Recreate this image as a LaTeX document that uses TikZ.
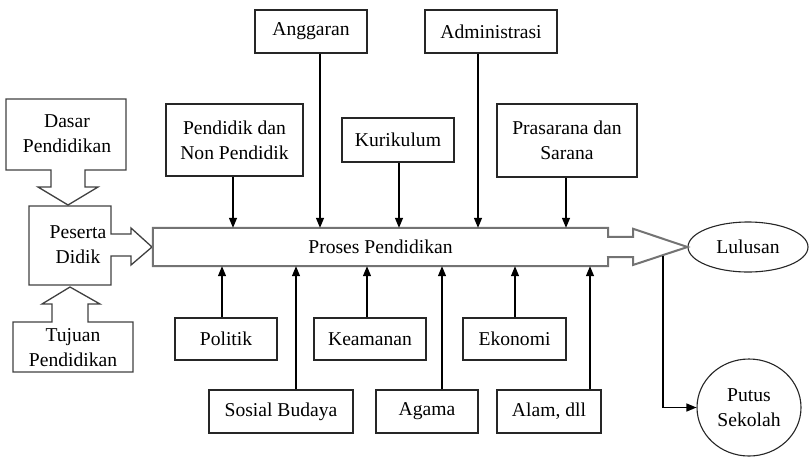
\documentclass[tikz,border=0pt]{standalone}
\usepackage{fontspec}
\setmainfont{Liberation Serif}
\usetikzlibrary{arrows.meta,shapes.geometric}
\newcommand\lblfont{\fontsize{19.6}{25}\selectfont}

\begin{document}
\begin{tikzpicture}[x=1pt,y=-1pt,
  box/.style={draw=black!85, line width=1.3pt, fill=white, inner sep=0pt,
              align=center, font=\lblfont},
  txt/.style={inner sep=0pt, align=center, font=\lblfont},
  oval/.style={ellipse, draw=black!85, line width=1.1pt, inner sep=0pt,
               align=center, font=\lblfont},
  feed/.style={line width=1.3pt, draw=black,
               -{Triangle[length=10pt,width=8pt]}},
  blockarrow/.style={draw=black!75, line width=1.3pt, line join=miter},
  mainflow/.style={draw=black!55, line width=2pt, line join=miter},
]
\useasboundingbox (0,0) rectangle (810,459);

% ---- input side: block arrows into the learner box ----
% Dasar Pendidikan, pointing down
\draw[blockarrow] (6,99) -- (126,99) -- (126,170) -- (85,170) -- (85,187)
  -- (98,187) -- (68,205) -- (38,187) -- (51,187) -- (51,170) -- (6,170) -- cycle;
\node[txt] (dasar) at (67,134) {Dasar\\Pendidikan};

% Peserta Didik with its arrow into the process
\draw[blockarrow] (29,206) -- (111,206) -- (111,234) -- (131,234) -- (131,228)
  -- (152,247) -- (131,265) -- (131,256) -- (111,256) -- (111,285) -- (29,285) -- cycle;
\node[txt] (peserta) at (78,245) {Peserta\\Didik};

% Tujuan Pendidikan, pointing up
\draw[blockarrow] (13,322) -- (52,322) -- (52,304) -- (42,304) -- (70,287)
  -- (100,304) -- (88,304) -- (88,322) -- (133,322) -- (133,372) -- (13,372) -- cycle;
\node[txt] (tujuan) at (73,348) {Tujuan\\Pendidikan};

% ---- the education process ----
\node[minimum width=455pt, minimum height=38pt, inner sep=0pt, font=\lblfont]
  (proses) at (380.5,247) {Proses Pendidikan};
\node[oval, minimum width=120pt, minimum height=50pt] (lulusan) at (748,247) {Lulusan};
\draw[mainflow] (proses.north west) -- (proses.north east) -- ++(0,9) -- ++(25,0)
  -- ++(0,-8) -- (lulusan.west) -- (633,265) -- ++(0,-8) -- ++(-25,0)
  -- (proses.south east) -- (proses.south west) -- cycle;

% ---- influences from above ----
\node[box, minimum width=112pt, minimum height=43pt] (anggaran) at (311,31.5) {Anggaran};
\node[box, minimum width=132pt, minimum height=43pt] (admin) at (491,31.5) {Administrasi};
\node[box, minimum width=137pt, minimum height=72pt] (pendidik) at (234.5,140) {Pendidik dan\\Non Pendidik};
\node[box, minimum width=112pt, minimum height=44pt] (kurikulum) at (398,140) {Kurikulum};
\node[box, minimum width=140pt, minimum height=73pt] (prasarana) at (567,140.5) {Prasarana dan\\Sarana};

\draw[feed] ([xshift=-1.5pt]pendidik.south) -- ([xshift=-1.5pt]pendidik.south |- proses.north);
\draw[feed] ([xshift=9pt]anggaran.south) -- ([xshift=9pt]anggaran.south |- proses.north);
\draw[feed] ([xshift=1pt]kurikulum.south) -- ([xshift=1pt]kurikulum.south |- proses.north);
\draw[feed] ([xshift=-13pt]admin.south) -- ([xshift=-13pt]admin.south |- proses.north);
\draw[feed] ([xshift=-1pt]prasarana.south) -- ([xshift=-1pt]prasarana.south |- proses.north);

% ---- influences from below ----
\node[box, minimum width=102pt, minimum height=42pt] (politik) at (226,339) {Politik};
\node[box, minimum width=112pt, minimum height=42pt] (keamanan) at (370,339) {Keamanan};
\node[box, minimum width=103pt, minimum height=42pt] (ekonomi) at (514.5,339) {Ekonomi};
\node[box, minimum width=144pt, minimum height=43pt] (sosbud) at (281,411.5) {Sosial Budaya};
\node[box, minimum width=102pt, minimum height=43pt] (agama) at (427,411.5) {Agama};
\node[box, minimum width=104pt, minimum height=43pt] (alam) at (549,411.5) {Alam, dll};

\draw[feed] ([xshift=-4pt]politik.north) -- ([xshift=-4pt]politik.north |- proses.south);
\draw[feed] ([xshift=15pt]sosbud.north) -- ([xshift=15pt]sosbud.north |- proses.south);
\draw[feed] ([xshift=-3pt]keamanan.north) -- ([xshift=-3pt]keamanan.north |- proses.south);
\draw[feed] ([xshift=15pt]agama.north) -- ([xshift=15pt]agama.north |- proses.south);
\draw[feed] ([xshift=0.5pt]ekonomi.north) -- ([xshift=0.5pt]ekonomi.north |- proses.south);
\draw[feed] ([xshift=41pt]alam.north) -- ([xshift=41pt]alam.north |- proses.south);

% ---- drop-out branch ----
\node[oval, minimum width=104pt, minimum height=97pt] (putus) at (749,407.5) {Putus\\Sekolah};
\coordinate (split) at (663,256);
\draw[feed] (split) |- (putus.west);
\end{tikzpicture}
\end{document}
